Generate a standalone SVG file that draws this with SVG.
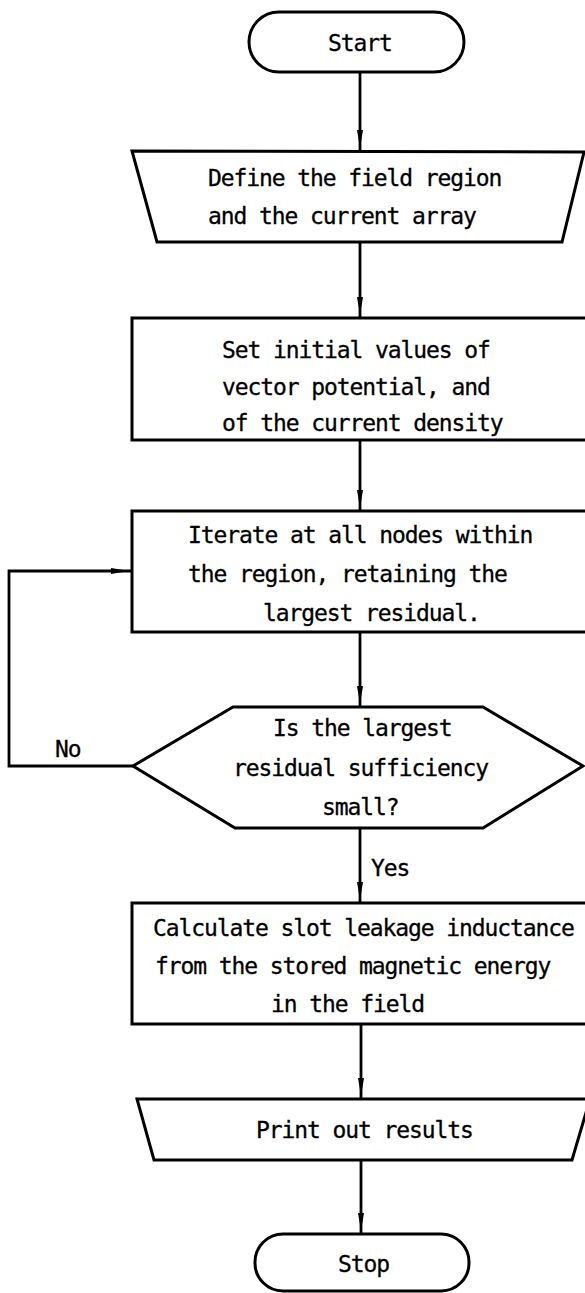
<svg xmlns="http://www.w3.org/2000/svg" width="585" height="1293" viewBox="0 0 585 1293">
  <style>
    .shape { fill: #ffffff; stroke: #000000; stroke-width: 3; stroke-linejoin: miter; }
    .label { font-family: "DejaVu Sans Mono", "Liberation Mono", monospace; font-size: 23px; letter-spacing: -1.1px; fill: #000000; stroke: #000000; stroke-width: 0.3; }
    .conn { fill: none; stroke: #000000; stroke-width: 2.8; }
  </style>
  <defs>
    <marker id="arrow" markerUnits="userSpaceOnUse" markerWidth="20" markerHeight="10" refX="21" refY="4" orient="auto">
      <path d="M0,1 L18,4 L0,7 Z" fill="#000000"/>
    </marker>
  </defs>

  <rect width="585" height="1293" fill="#ffffff"/>

  <!-- connectors -->
  <g id="connectors">
    <line class="conn" x1="360" y1="72" x2="360" y2="151" marker-end="url(#arrow)"/>
    <line class="conn" x1="360" y1="242" x2="360" y2="318" marker-end="url(#arrow)"/>
    <line class="conn" x1="360" y1="440" x2="360" y2="511" marker-end="url(#arrow)"/>
    <line class="conn" x1="360" y1="632" x2="360" y2="707" marker-end="url(#arrow)"/>
    <line class="conn" x1="360" y1="828" x2="360" y2="903" marker-end="url(#arrow)"/>
    <line class="conn" x1="361" y1="1024" x2="361" y2="1099" marker-end="url(#arrow)"/>
    <line class="conn" x1="361" y1="1160" x2="361" y2="1234" marker-end="url(#arrow)"/>
    <polyline class="conn" points="133,766 9,766 9,571 132,571" marker-end="url(#arrow)"/>
    <text class="label" x="371" y="876">Yes</text>
    <text class="label" x="55" y="757">No</text>
  </g>

  <g id="start">
    <rect class="shape" x="249" y="12" width="215" height="60" rx="30" ry="30"/>
    <text class="label" x="328" y="51">Start</text>
  </g>

  <g id="define-input">
    <polygon class="shape" points="132,151 584,152 562,242 157,242"/>
    <text class="label" x="208" y="186">Define the field region</text>
    <text class="label" x="208" y="224">and the current array</text>
  </g>

  <g id="set-initial">
    <rect class="shape" x="132" y="318" width="470" height="122"/>
    <text class="label" x="222" y="358">Set initial values of</text>
    <text class="label" x="222" y="395">vector potential, and</text>
    <text class="label" x="222" y="431">of the current density</text>
  </g>

  <g id="iterate">
    <rect class="shape" x="132" y="511" width="470" height="121"/>
    <text class="label" x="188" y="543">Iterate at all nodes within</text>
    <text class="label" x="188" y="582">the region, retaining the</text>
    <text class="label" x="263" y="621">largest residual.</text>
  </g>

  <g id="residual-check">
    <polygon class="shape" points="133,766 233,707 483,707 583,766 483,828 235,828"/>
    <text class="label" x="273" y="736">Is the largest</text>
    <text class="label" x="233" y="776">residual sufficiency</text>
    <text class="label" x="322" y="815">small?</text>
  </g>

  <g id="calculate">
    <rect class="shape" x="132" y="903" width="470" height="121"/>
    <text class="label" x="153" y="936">Calculate slot leakage inductance</text>
    <text class="label" x="155" y="974">from the stored magnetic energy</text>
    <text class="label" x="271" y="1012">in the field</text>
  </g>

  <g id="print-output">
    <polygon class="shape" points="137,1099 590,1099 572,1160 154,1160"/>
    <text class="label" x="256" y="1138">Print out results</text>
  </g>

  <g id="stop">
    <rect class="shape" x="255" y="1234" width="214" height="57" rx="28" ry="28"/>
    <text class="label" x="338" y="1272">Stop</text>
  </g>
</svg>
